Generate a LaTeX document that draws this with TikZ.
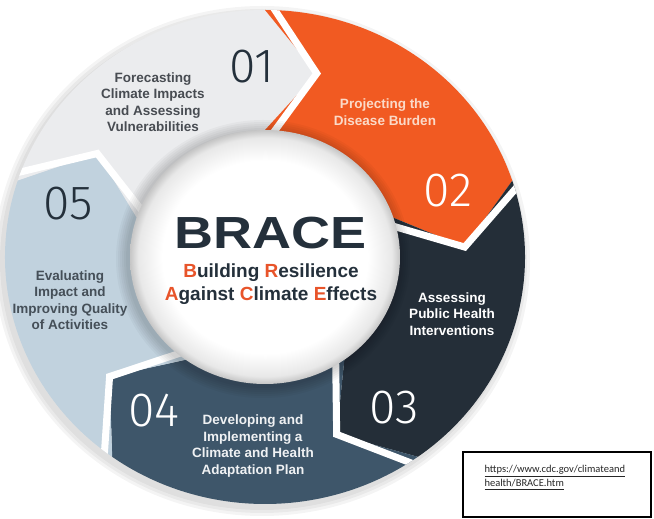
\documentclass[tikz,border=0pt]{standalone}
\usepackage{fontspec}
\setmainfont{Liberation Sans}
\IfFontExistsTF{Fira Sans Light}{\newfontfamily\numfont{Fira Sans Light}}{%
  \IfFontExistsTF{Lato Light}{\newfontfamily\numfont{Lato Light}}{%
    \IfFontExistsTF{DejaVu Sans ExtraLight}{\newfontfamily\numfont{DejaVu Sans ExtraLight}}{%
      \newfontfamily\numfont{Liberation Sans}}}}
\newfontfamily\urlfont{Carlito}
\usepackage{graphicx}
\usetikzlibrary{positioning,calc}
\definecolor{segA}{RGB}{235,236,238}
\definecolor{segB}{RGB}{241,90,34}
\definecolor{segC}{RGB}{36,46,56}
\definecolor{segD}{RGB}{62,86,106}
\definecolor{segE}{RGB}{193,210,222}
\definecolor{ink}{RGB}{36,48,59}
\definecolor{bracered}{RGB}{232,84,42}
\definecolor{labgray}{RGB}{72,76,82}
\definecolor{peach}{RGB}{251,218,200}
\pgfdeclareradialshading{glow}{\pgfpoint{0bp}{0bp}}{color(0bp)=(white); color(19bp)=(white); color(23.5bp)=(gray!18); color(25bp)=(gray!45); color(50bp)=(gray!45)}
\tikzset{num/.style={font=\numfont\fontsize{48}{48}\selectfont},
    lab/.style={font=\bfseries\fontsize{13.5}{16.5}\selectfont, align=center},
    gap/.style={white, line width=7pt, line join=miter},
    sub/.style={font=\bfseries\fontsize{19}{22}\selectfont, text=ink, anchor=base}
}

\begin{document}
\begin{tikzpicture}[x=1pt,y=1pt]
	\useasboundingbox (0,0) rectangle (654,519);
	\coordinate (C) at (265,262);
	\begin{scope}[shift={(C)}]
		\foreach \d in {2,5,8}
			\fill[black,opacity=0.045] (-3,-4) ellipse [x radius=260+\d, y radius=247+\d];
		\foreach \k/\col in {0/segA,1/segB,2/segC,3/segD,4/segE}{
			\pgfmathsetmacro\as{162-72*\k}
			\pgfmathsetmacro\ae{90-72*\k}
			\fill[\col] (\as:260 and 247) arc[start angle=\as, end angle=\ae, x radius=260, y radius=247]
				-- (\ae-15:200 and 190) -- (\ae:135 and 127) -- (0,0)
				-- (\as:135 and 127) -- (\as-15:200 and 190) -- cycle;
		}
		\begin{scope}
			\clip (0,0) ellipse [x radius=260, y radius=247];
			\foreach \a in {162,90,18,-54,-126}
				\draw[gap] (\a:275 and 262) -- (\a-15:200 and 190) -- (\a:120 and 113);
		\end{scope}
		\foreach \d in {2,4,...,12}
			\fill[black,opacity=0.03] (-2,-2) ellipse [x radius=135+\d, y radius=127+\d];
		\shade[shading=glow] (0,0) ellipse [x radius=135, y radius=127];
	\end{scope}
	\node[num, text=ink] (N1) at (252,452) {01};
	\node[num, text=white] (N2) at (448,328) {02};
	\node[num, text=white] (N3) at (394,111) {03};
	\node[num, text=white] (N4) at (154,108) {04};
	\node[num, text=ink] (N5) at (68,315) {05};
	\node[lab, text=labgray] (L1) at (153,417) {Forecasting\\Climate Impacts\\and Assessing\\Vulnerabilities};
	\node[lab, text=peach] (L2) at (385,407) {Projecting the\\Disease Burden};
	\node[lab, text=white] (L3) at (452,205) {Assessing\\Public Health\\Interventions};
	\node[lab, text=white!92!segD] (L4) at (253,73) {Developing and\\Implementing a\\Climate and Health\\Adaptation Plan};
	\node[lab, text=ink!85] (L5) at (70,219) {Evaluating\\Impact and\\Improving Quality\\of Activities};
	\node[font=\bfseries\fontsize{45}{45}\selectfont, text=ink] (T) at (271,286) {\scalebox{1.2}[1]{BRACE}};
	\node[sub] (S1) at (271,241) {{\color{bracered}B}uilding {\color{bracered}R}esilience};
	\node[sub] (S2) at (271,218.5) {{\color{bracered}A}gainst {\color{bracered}C}limate {\color{bracered}E}ffects};
	\draw[line width=1.5pt] (463,2) rectangle (651,67);
	\node[font=\urlfont\fontsize{10.5}{14}\selectfont, text=black!85, anchor=base west] (U1) at (481,46) {\underline{https://www.cdc.gov/climateand}};
	\node[font=\urlfont\fontsize{10.5}{14}\selectfont, text=black!85, anchor=base west] (U2) at (481,32) {\underline{health/BRACE.htm}};
\end{tikzpicture}
\end{document}
